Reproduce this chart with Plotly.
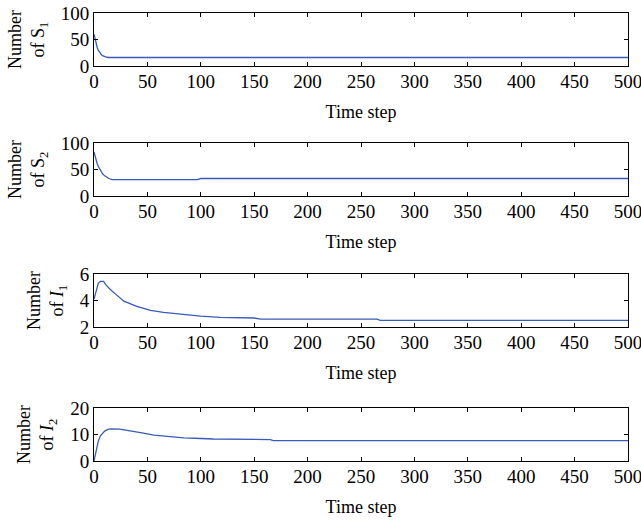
import plotly.graph_objects as go

# Data
S1_t = [0, 1, 2, 3, 4, 5, 6, 7, 8, 9, 10, 12, 14, 500]
S1 = [60, 50, 42, 35, 30, 26, 23, 21, 19.5, 18.5, 17.5, 16.5, 16, 16]

S2_t = [0, 1, 2, 3, 4, 5, 6, 8, 10, 12, 14, 17, 97, 100, 500]
S2 = [83, 74, 67, 61, 56, 52, 48, 42, 38, 35, 33, 31, 31, 33, 33]

I1_t = [0, 2, 4, 6, 9, 11, 15, 20, 28, 40, 53, 65, 78, 90, 100, 118, 150, 156, 265, 268, 500]
I1 = [4.1, 4.8, 5.3, 5.45, 5.45, 5.2, 4.85, 4.5, 3.95, 3.55, 3.25, 3.1, 2.98, 2.9, 2.82, 2.72, 2.68, 2.6, 2.6, 2.5, 2.5]

I2_t = [0, 2, 4, 6, 8, 10, 13, 16, 24, 34, 45, 56, 70, 84, 100, 112, 165, 168, 500]
I2 = [0, 4.5, 7.5, 9.5, 10.5, 11.3, 11.9, 12.1, 12, 11.2, 10.6, 9.8, 9.2, 8.7, 8.5, 8.3, 8.1, 7.7, 7.7]

x_ticks = [0, 50, 100, 150, 200, 250, 300, 350, 400, 450, 500]
y_titles = ["Number<br>of S<sub>1</sub>", "Number<br>of S<sub>2</sub>",
            "Number<br>of <i>I</i><sub>1</sub>", "Number<br>of <i>I</i><sub>2</sub>"]
y_ranges = [[0, 100], [0, 100], [2, 6], [0, 20]]
y_dticks = [50, 50, 2, 10]
x_title = "Time step"

series = [(S1_t, S1), (S2_t, S2), (I1_t, I1), (I2_t, I2)]

W, H = 641, 523
panel_px = [(13, 66), (143, 196), (274, 327), (408, 461)]
x_px = (94, 628)

FONT = "Liberation Serif"
LINE = "rgb(56,90,184)"

fig = go.Figure()
layout = {}
for i, ((t, v), (top, bot)) in enumerate(zip(series, panel_px)):
    n = i + 1
    xa = "x" if n == 1 else f"x{n}"
    ya = "y" if n == 1 else f"y{n}"
    fig.add_trace(go.Scatter(x=t, y=v, mode="lines", xaxis=xa, yaxis=ya,
                             line=dict(color=LINE, width=1.3), showlegend=False,
                             hoverinfo="skip", cliponaxis=False))
    common = dict(showline=True, linecolor="black", linewidth=1, mirror="ticks",
                  ticks="inside", ticklen=4, tickcolor="black", tickwidth=1,
                  showgrid=False, zeroline=False, automargin=False,
                  ticklabeloverflow="allow",
                  tickfont=dict(family=FONT, size=19, color="black"))
    layout["xaxis" if n == 1 else f"xaxis{n}"] = dict(
        domain=[x_px[0] / W, x_px[1] / W], range=[0, 500], tickvals=x_ticks,
        anchor=ya, ticklabelstandoff=-2,
        title=dict(text=x_title, font=dict(family=FONT, size=18, color="black"), standoff=14),
        **common)
    layout["yaxis" if n == 1 else f"yaxis{n}"] = dict(
        domain=[1 - bot / H, 1 - top / H], range=y_ranges[i], dtick=y_dticks[i],
        anchor=xa,
        title=dict(text=y_titles[i], font=dict(family=FONT, size=18, color="black"), standoff=11),
        **common)

fig.update_layout(width=W, height=H, margin=dict(l=0, r=0, t=0, b=0),
                  paper_bgcolor="white", plot_bgcolor="white", **layout)
fig.write_html("out.html", config={"displayModeBar": False},
               post_script="document.body.style.margin='0';document.body.style.overflow='hidden';")
